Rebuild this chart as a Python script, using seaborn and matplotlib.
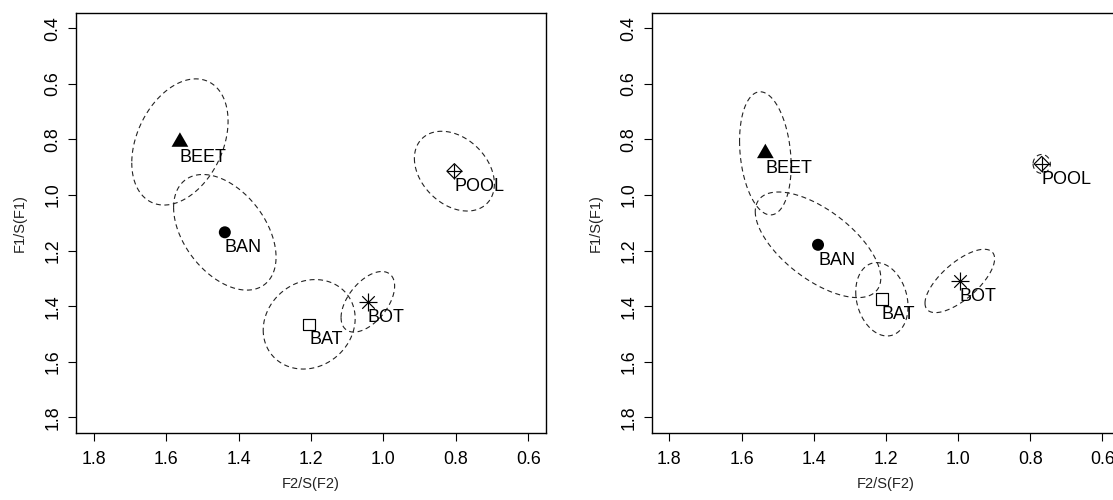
import numpy as np
import pandas as pd
import matplotlib
matplotlib.use("Agg")
import matplotlib.pyplot as plt
import seaborn as sns

# ---------------- data ----------------
categories = ["BEET", "BAN", "BAT", "BOT", "POOL"]

left_x = [1.562, 1.438, 1.205, 1.043, 0.804]
left_y = [0.809, 1.134, 1.465, 1.384, 0.914]
left_sx = [0.133, 0.1415, 0.127, 0.074, 0.1105]
left_sy = [0.227, 0.208, 0.161, 0.109, 0.1435]
left_r = [0.33, -0.43, 0.13, 0.52, -0.32]

right_x = [1.534, 1.388, 1.211, 0.995, 0.768]
right_y = [0.850, 1.179, 1.375, 1.309, 0.888]
right_sx = [0.0715, 0.174, 0.0725, 0.0965, 0.024]
right_sy = [0.2215, 0.190, 0.132, 0.114, 0.034]
right_r = [-0.20, -0.63, -0.20, 0.70, 0.0]

x_ticks = [1.8, 1.6, 1.4, 1.2, 1.0, 0.8, 0.6]
y_ticks = [0.4, 0.6, 0.8, 1.0, 1.2, 1.4, 1.6, 1.8]
x_label = "F2/S(F2)"
y_label = "F1/S(F1)"

# ---------------- style ----------------
sns.set_theme(style="white")
plt.rcParams["font.family"] = ["Liberation Sans", "DejaVu Sans"]

PX = 72.0 / 100.0  # points per pixel at dpi 100

# equilateral triangle with centroid at origin (R pch 17)
tri = [(0.0, 1.555), (-1.347, -0.778), (1.347, -0.778), (0.0, 1.555)]

marker_specs = {
    "BEET": [dict(marker=tri, ms=19.3, filled=True)],
    "BAN": [dict(marker="o", ms=12.0, filled=True)],
    "BAT": [dict(marker="s", ms=11.6, filled=False)],
    "BOT": [dict(marker="+", ms=17.7, filled=None), dict(marker="x", ms=12.5, filled=None)],
    "POOL": [dict(marker="D", ms=10.6, filled=False), dict(marker="+", ms=15.0, filled=None)],
}


def draw_panel(ax, xs, ys, sxs, sys_, rs):
    t = np.linspace(0, 2 * np.pi, 400)
    for cx, cy, sx, sy, r in zip(xs, ys, sxs, sys_, rs):
        d = np.arccos(r)
        ex = cx + sx * np.cos(t)
        ey = cy + sy * np.cos(t - d)
        ax.plot(ex, ey, color="#222222", lw=0.8, linestyle=(0, (4.5, 3.2)))

    df = pd.DataFrame({"cat": categories, "x": xs, "y": ys})
    for _, row in df.iterrows():
        for spec in marker_specs[row["cat"]]:
            size = (spec["ms"] * PX) ** 2
            if spec["filled"] is True:
                sns.scatterplot(x=[row["x"]], y=[row["y"]], marker=spec["marker"], s=size,
                                color="black", edgecolor="none", linewidth=0, ax=ax, zorder=3)
            elif spec["filled"] is False:
                sns.scatterplot(x=[row["x"]], y=[row["y"]], marker=spec["marker"], s=size,
                                color="black", facecolor="none", edgecolor="black",
                                linewidth=0.85, ax=ax, zorder=3)
            else:
                sns.scatterplot(x=[row["x"]], y=[row["y"]], marker=spec["marker"], s=size,
                                color="black", linewidth=0.85, ax=ax, zorder=3)
        ax.annotate(row["cat"], (row["x"], row["y"]), xytext=(0, -14.2),
                    textcoords="offset points", ha="left", va="baseline",
                    fontsize=13, color="black")

    ax.set_xlim(1.849, 0.551)
    ax.set_ylim(1.856, 0.344)
    ax.set_xticks(x_ticks)
    ax.set_yticks(y_ticks)
    ax.set_xticklabels([f"{v:.1f}" for v in x_ticks])
    ax.set_yticklabels([f"{v:.1f}" for v in y_ticks], rotation=90, va="center")
    ax.tick_params(axis="both", direction="out", length=5.8, width=0.8, color="black",
                   labelsize=12.8, labelcolor="black", bottom=True, left=True)
    ax.tick_params(axis="x", pad=7.0)
    ax.tick_params(axis="y", pad=4.6)
    for sp in ax.spines.values():
        sp.set_visible(True)
        sp.set_color("black")
        sp.set_linewidth(1.0)
    ax.grid(False)
    ax.set_facecolor("white")
    ax.set_xlabel(x_label, fontsize=10.5, color="#222222", va="center")
    ax.set_ylabel(y_label, fontsize=10.5, color="#222222", va="center", ha="center")
    ax.xaxis.set_label_coords(0.5, -0.1213)
    ax.yaxis.set_label_coords(-0.119, 0.5)


fig = plt.figure(figsize=(11.13, 5.0), dpi=100)
fig.patch.set_facecolor("white")
axL = fig.add_axes([76 / 1113, 67 / 500, 470 / 1113, 420.3 / 500])
axR = fig.add_axes([651.7 / 1113, 67 / 500, 468.3 / 1113, 420.3 / 500])

draw_panel(axL, left_x, left_y, left_sx, left_sy, left_r)
draw_panel(axR, right_x, right_y, right_sx, right_sy, right_r)

fig.savefig("out.png", dpi=100, facecolor="white")
